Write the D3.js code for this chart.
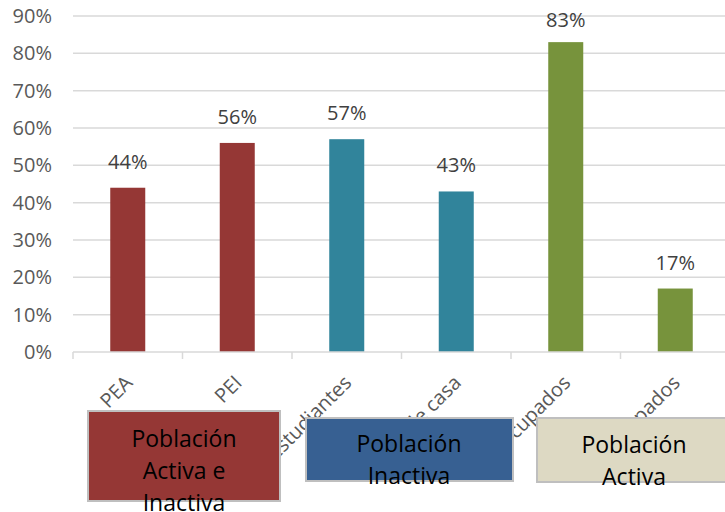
<!DOCTYPE html>
<html>
<head>
<meta charset="utf-8">
<script src="https://cdn.jsdelivr.net/npm/d3@7"></script>
<style>
    body { margin: 0; background: #fff; }
    svg { display: block; font-family: "Open Sans", sans-serif; }
</style>
</head>
<body>
<div id="chart"></div>
<script>
const categories = ["PEA", "PEI", "Estudiantes", "Amas de casa", "Ocupados", "Desocupados"];
const values = [0.44, 0.56, 0.57, 0.43, 0.83, 0.17];
const groups = ["mixta", "mixta", "inactiva", "inactiva", "activa", "activa"];
const yTicks = [0, 0.1, 0.2, 0.3, 0.4, 0.5, 0.6, 0.7, 0.8, 0.9];

const legendLabels = [
    ["Población", "Activa e", "Inactiva"],
    ["Población", "Inactiva"],
    ["Población", "Activa"]
];

const barColor = { mixta: "#953735", inactiva: "#31849b", activa: "#77933c" };
const boxColors = ["#953735", "#376092", "#ddd9c3"];

const W = 725, H = 512;
const svg = d3.select("#chart").append("svg")
    .attr("width", W)
    .attr("height", H);

const x = d3.scaleBand()
    .domain(categories)
    .range([73, 730])
    .paddingInner(0)
    .paddingOuter(0);

const y = d3.scaleLinear()
    .domain([0, 0.9])
    .range([352, 16]);

const pct = d3.format(".0%");

// gridlines
svg.append("g")
    .selectAll("line")
    .data(yTicks.slice(1))
    .enter()
    .append("line")
    .attr("x1", 73)
    .attr("x2", W)
    .attr("y1", d => y(d))
    .attr("y2", d => y(d))
    .attr("stroke", "#d9d9d9")
    .attr("stroke-width", 1.5);

// y axis labels
const yAxis = svg.append("g")
    .attr("transform", "translate(52,0)")
    .call(d3.axisLeft(y).tickValues(yTicks).tickFormat(pct).tickSize(0).tickPadding(0));
yAxis.select(".domain").remove();
yAxis.selectAll("text")
    .attr("font-family", "Open Sans")
    .attr("font-size", 20)
    .attr("fill", "#595959");

// bars
const barW = 35;
svg.append("g")
    .selectAll("rect")
    .data(categories)
    .enter()
    .append("rect")
    .attr("x", d => x(d) + x.bandwidth() / 2 - barW / 2)
    .attr("y", (d, i) => y(values[i]))
    .attr("width", barW)
    .attr("height", (d, i) => y(0) - y(values[i]))
    .attr("fill", (d, i) => barColor[groups[i]]);

// value labels
svg.append("g")
    .selectAll("text")
    .data(categories)
    .enter()
    .append("text")
    .attr("x", d => x(d) + x.bandwidth() / 2)
    .attr("y", (d, i) => Math.max(y(values[i]) - 19, 27))
    .attr("text-anchor", "middle")
    .attr("font-size", 20)
    .attr("fill", "#404040")
    .text((d, i) => pct(values[i]));

// x axis
const xAxis = svg.append("g")
    .attr("transform", "translate(0,352)");
xAxis.append("line")
    .attr("x1", 73)
    .attr("x2", W)
    .attr("stroke", "#d9d9d9")
    .attr("stroke-width", 1.5);
xAxis.selectAll(".tick")
    .data(categories)
    .enter()
    .append("line")
    .attr("x1", d => x(d))
    .attr("x2", d => x(d))
    .attr("y1", 0)
    .attr("y2", 7)
    .attr("stroke", "#d9d9d9")
    .attr("stroke-width", 1.5);
xAxis.selectAll(".lbl")
    .data(categories)
    .enter()
    .append("text")
    .attr("class", "lbl")
    .attr("transform", d => `translate(${x(d) + x.bandwidth() / 2 + 6},${32}) rotate(-45)`)
    .attr("text-anchor", "end")
    .attr("font-size", 20)
    .attr("fill", "#595959")
    .text(d => d);

// legend boxes drawn over the labels
const boxes = [
    { x: 88, y: 411, w: 192, h: 90, tx: 184, ty: 447 },
    { x: 306, y: 418, w: 207, h: 63, tx: 409, ty: 452 },
    { x: 537, y: 418, w: 192, h: 64, tx: 634, ty: 453 }
];

const legend = svg.append("g")
    .selectAll("g")
    .data(boxes)
    .enter()
    .append("g");

legend.append("rect")
    .attr("x", d => d.x)
    .attr("y", d => d.y)
    .attr("width", d => d.w)
    .attr("height", d => d.h)
    .attr("fill", (d, i) => boxColors[i])
    .attr("stroke", "#bfbfbf")
    .attr("stroke-width", 2);

legend.append("text")
    .attr("text-anchor", "middle")
    .attr("font-size", 23)
    .attr("fill", "#000")
    .selectAll("tspan")
    .data((d, i) => legendLabels[i].map(t => ({ t: t, b: d })))
    .enter()
    .append("tspan")
    .attr("x", d => d.b.tx)
    .attr("y", (d, j) => d.b.ty + j * 32)
    .text(d => d.t);
</script>
</body>
</html>
